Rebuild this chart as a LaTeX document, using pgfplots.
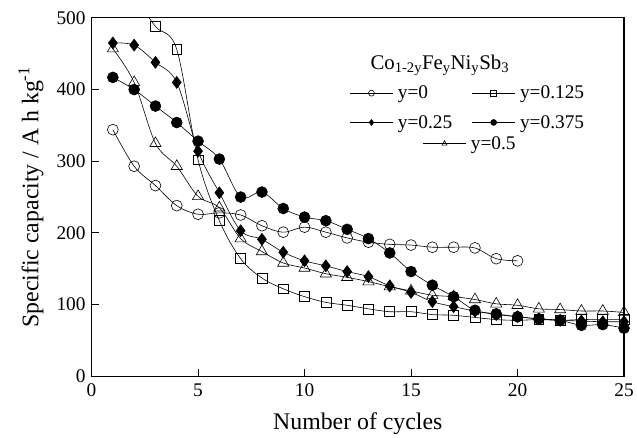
\documentclass[border=0pt]{standalone}
\usepackage{fontspec}
\setmainfont{Liberation Serif}
\usepackage{pgfplots}
\pgfplotsset{compat=1.18}
\newcommand{\tickfont}{\fontsize{19.5}{22}\selectfont}
\begin{document}
\begin{tikzpicture}
\pgfplotsset{
  legimg/.style={legend image code/.code={\draw[mark repeat=2,mark phase=2,mark size=3pt] plot coordinates {(0cm,0cm) (0.75cm,0cm) (1.5cm,0cm)};}},
  common/.style={
    scale only axis, width=535bp, height=360bp,
    xmin=0, xmax=25, ymin=0, ymax=500,
  }
}
\begin{axis}[common,
  xtick={0,5,...,25}, ytick={0,100,...,500},
  tick align=inside, xtick pos=left, ytick pos=left,
  major tick length=7bp,
  axis line style={line width=1.1pt},
  tick style={line width=0.9pt, black},
  xticklabel={\tickfont\pgfmathprintnumber[assume math mode=true]{\tick}},
  yticklabel={\tickfont\pgfmathprintnumber[assume math mode=true]{\tick}},
  xticklabel style={yshift=-4bp},
  yticklabel style={xshift=-2.5bp},
  xlabel={Number of cycles}, ylabel={Specific capacity / A h kg\textsuperscript{-1}},
  label style={font=\fontsize{24}{28}\selectfont},
  xlabel style={at={([yshift=-47.5bp]axis description cs:0.5,0)}, anchor=center},
  ylabel style={at={([xshift=-61bp]axis description cs:0,0.5)}, anchor=center},
  clip mode=individual,
  every axis plot/.append style={black, line width=0.6pt, smooth, tension=0.55},
  legimg,
  legend columns=2, legend cell align=left,
  legend style={draw=none, fill=none, font=\fontsize{19.5}{21}\selectfont, inner sep=0pt,
    at={(rel axis cs:0.485,0.816)}, anchor=north west, row sep=11bp,
    /tikz/column 1/.style={column sep=3bp},
    /tikz/column 2/.style={column sep=18bp},
    /tikz/column 3/.style={column sep=3bp}},
]
\addplot[mark=o, mark size=5.5pt, mark options={fill=white}] coordinates {
(1,344)(2,293)(3,266)(4,238)(5,226)(6,228)(7,225)(8,210)(9,201)(10,208)
(11,201)(12,193)(13,187)(14,184)(15,183)(16,180)(17,180)(18,179)(19,164)(20,161)};
\addlegendentry{y=0}
\addplot[mark=square, mark size=5pt, mark options={fill=white}] coordinates {
(1,560)(2,530)(3,488)(4,456)(5,302)(6,217)(7,164)(8,137)(9,122)(10,111)
(11,103)(12,99)(13,94)(14,90)(15,90)(16,86)(17,85)(18,82)(19,79)(20,78)
(21,79)(22,78)(23,79)(24,79)(25,79)};
\addlegendentry{y=0.125}
\addplot[mark=diamond*, mark size=6pt, mark options={fill=black}] coordinates {
(1,465)(2,462)(3,438)(4,410)(5,314)(6,256)(7,203)(8,191)(9,173)(10,161)
(11,154)(12,146)(13,139)(14,126)(15,117)(16,104)(17,97)(18,91)(19,86)(20,83)
(21,80)(22,78)(23,77)(24,76)(25,76)};
\addlegendentry{y=0.25}
\addplot[mark=*, mark size=5.5pt, mark options={fill=black}] coordinates {
(1,417)(2,400)(3,377)(4,354)(5,328)(6,303)(7,250)(8,257)(9,234)(10,222)
(11,217)(12,205)(13,192)(14,172)(15,146)(16,127)(17,111)(18,92)(19,87)(20,83)
(21,80)(22,78)(23,71)(24,72)(25,67)};
\addlegendentry{y=0.375}
\addplot[mark=triangle, mark size=6.5pt, mark options={fill=white}] coordinates {
(1,457)(2,410)(3,325)(4,293)(5,251)(6,235)(7,192)(8,174)(9,158)(10,151)
(11,143)(12,138)(13,132)(14,125)(15,119)(16,113)(17,111)(18,107)(19,101)(20,99)
(21,94)(22,93)(23,91)(24,91)(25,89)};
\node[font=\fontsize{21}{24}\selectfont] at (rel axis cs:0.654,0.867) {Co\textsubscript{1-2y}Fe\textsubscript{y}Ni\textsubscript{y}Sb\textsubscript{3}};
\end{axis}
\begin{axis}[common, hide axis, legimg,
  legend style={draw=none, fill=none, font=\fontsize{19.5}{21}\selectfont, inner sep=0pt,
    at={(rel axis cs:0.622,0.675)}, anchor=north west,
    /tikz/column 1/.style={column sep=3bp}},
]
\addlegendimage{black, line width=0.6pt, mark=triangle, mark options={fill=white}}
\addlegendentry{y=0.5}
\end{axis}
\path (current axis.south west) ++(-92bp,-59bp);
\path (current axis.north east) ++(10bp,18bp);
\end{tikzpicture}
\end{document}
